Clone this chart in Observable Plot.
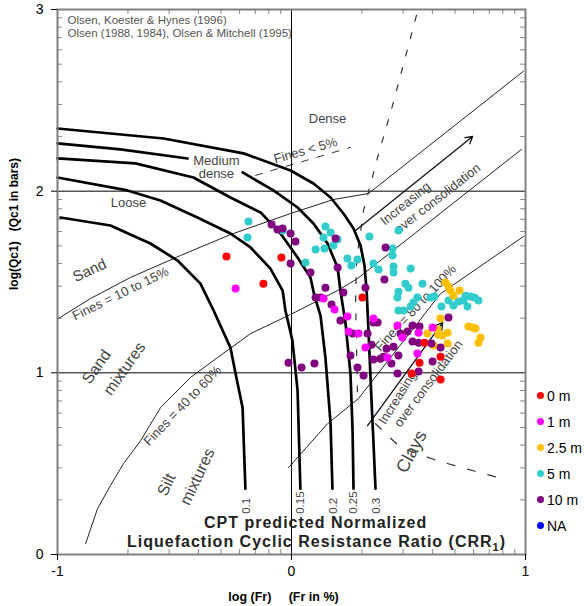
<!DOCTYPE html>
<html><head><meta charset="utf-8">
<script src="https://cdn.jsdelivr.net/npm/d3@7"></script>
<script src="https://cdn.jsdelivr.net/npm/@observablehq/plot@0.6"></script>
<style>
body{margin:0;background:#fff;font-family:"Liberation Sans",Arial,sans-serif;}
#wrap{position:relative;width:584px;height:606px;overflow:hidden;}
#legend{position:absolute;left:537px;top:383px;font-size:14px;line-height:26px;color:#000;white-space:nowrap}
.sw{display:inline-block;width:7px;height:7px;border-radius:50%;margin-right:3px;vertical-align:middle;position:relative;top:-2px}
</style></head><body>
<div id="wrap"><div id="chart"></div><div id="legend"></div></div>
<script>
// ---- categories / legend ----
const depths = ["0 m", "1 m", "2.5 m", "5 m", "10 m", "NA"];
const depthColors = ["#ff0000", "#ff00ff", "#ffc000", "#33cccc", "#800080", "#0000ff"];

// ---- measured points [log(Fr), log(Qc1)] per depth ----
const pts0m = [[-0.278,1.640],[-0.043,1.635],[-0.120,1.491],[0.303,1.414],[0.568,1.166],[0.637,1.089],[0.547,1.056],[0.513,0.996],[0.637,0.963]];
const pts1m = [[-0.239,1.464],[0.137,1.409],[0.184,1.348],[0.239,1.310],[0.244,1.227],[0.286,1.216],[0.316,1.139],[0.350,1.299],[0.453,1.260],[0.474,1.194],[0.543,1.221],[0.603,1.249],[0.410,1.084],[0.538,1.106]];
const pts2_5m = [[0.658,1.497],[0.671,1.475],[0.679,1.453],[0.692,1.425],[0.718,1.453],[0.637,1.299],[0.756,1.255],[0.774,1.249],[0.786,1.244],[0.624,1.238],[0.628,1.210],[0.645,1.205],[0.667,1.221],[0.581,1.216],[0.808,1.194],[0.799,1.166],[0.667,1.161],[0.607,1.150]];
const pts5m = [[-0.184,1.833],[-0.188,1.745],[-0.038,1.783],[0.060,1.607],[0.145,1.806],[0.167,1.772],[0.137,1.745],[0.197,1.734],[0.179,1.701],[0.141,1.684],[0.103,1.679],[0.239,1.629],[0.282,1.624],[0.256,1.591],[0.333,1.750],[0.350,1.602],[0.372,1.569],[0.457,1.783],[0.432,1.684],[0.432,1.646],[0.436,1.585],[0.436,1.552],[0.509,1.574],[0.487,1.491],[0.500,1.469],[0.560,1.491],[0.457,1.447],[0.453,1.414],[0.538,1.414],[0.521,1.387],[0.509,1.365],[0.457,1.343],[0.479,1.343],[0.594,1.414],[0.611,1.420],[0.671,1.398],[0.641,1.365],[0.692,1.370],[0.714,1.392],[0.744,1.425],[0.735,1.398],[0.752,1.365],[0.765,1.420],[0.782,1.414],[0.799,1.398]];
const pts10m = [[-0.085,1.817],[-0.060,1.789],[-0.038,1.794],[-0.004,1.767],[0.017,1.723],[-0.004,1.602],[0.081,1.552],[0.188,1.739],[0.197,1.580],[0.145,1.469],[0.103,1.414],[0.124,1.414],[0.222,1.442],[0.316,1.469],[0.402,1.690],[0.397,1.514],[0.171,1.376],[0.209,1.288],[0.261,1.216],[0.325,1.216],[0.350,1.277],[0.368,1.277],[0.342,1.155],[0.252,1.095],[0.350,1.073],[0.282,1.029],[0.308,0.985],[-0.013,1.056],[0.043,1.029],[0.098,1.051],[0.671,1.304],[0.517,1.260],[0.547,1.255],[0.466,1.216],[0.496,1.227],[0.517,1.172],[0.543,1.166],[0.598,1.161],[0.637,1.139],[0.406,1.133],[0.436,1.144],[0.393,1.089],[0.457,1.095],[0.427,1.051],[0.603,1.062],[0.543,1.007],[0.453,0.996],[0.380,1.078]];
const ptsNA = [];

// ---- background chart (Olsen) curves [log(Fr), log(Qc1)] ----
const crr030 = [[-1.0,2.345],[-0.547,2.290],[-0.205,2.208],[-0.004,2.114],[0.094,2.042],[0.167,1.965],[0.222,1.877],[0.265,1.795],[0.295,1.701],[0.312,1.591],[0.321,1.453],[0.329,1.233],[0.342,0.847],[0.350,0.626],[0.359,0.362]];
const crr025a = [[-1.0,2.263],[-0.731,2.230],[-0.444,2.180]];
const crr025b = [[-0.209,2.103],[-0.077,2.004],[0.026,1.910],[0.094,1.822],[0.154,1.712],[0.197,1.580],[0.209,1.453],[0.231,1.271],[0.252,0.996],[0.261,0.682],[0.265,0.362]];
const crr020 = [[-1.0,2.180],[-0.667,2.153],[-0.419,2.075],[-0.261,1.965],[-0.132,1.883],[-0.047,1.767],[0.026,1.635],[0.081,1.525],[0.098,1.425],[0.124,1.315],[0.145,1.084],[0.167,0.720],[0.175,0.362]];
const crr015 = [[-1.0,2.075],[-0.701,2.004],[-0.560,1.949],[-0.402,1.855],[-0.261,1.767],[-0.175,1.690],[-0.090,1.574],[-0.038,1.453],[-0.026,1.343],[0.004,1.177],[0.026,0.902],[0.038,0.362]];
const crr010 = [[-0.987,1.855],[-0.774,1.811],[-0.603,1.712],[-0.487,1.618],[-0.389,1.491],[-0.333,1.343],[-0.261,1.139],[-0.239,0.996],[-0.209,0.808],[-0.197,0.362]];
const fines10to15 = [[-0.996,1.299],[-0.859,1.409],[-0.688,1.525],[-0.474,1.646],[-0.261,1.761],[-0.004,1.877],[0.179,1.954],[0.329,1.987],[0.991,2.660]];
const fines40to60 = [[-0.880,0.059],[-0.829,0.252],[-0.774,0.379],[-0.718,0.500],[-0.645,0.626],[-0.560,0.808],[-0.432,0.974],[-0.316,1.084],[-0.175,1.216],[-0.004,1.321],[0.197,1.453],[0.282,1.519],[0.983,2.230]];
const fines80to100 = [[-0.013,0.478],[0.154,0.720],[0.286,0.858],[0.637,1.436],[0.991,1.750]];
const finesUnder5 = [[-0.154,2.087],[0.252,2.241]];
const dashedBoundary = [[0.534,2.968],[0.432,2.472],[0.368,2.186],[0.308,1.894],[0.278,1.618],[0.274,1.398],[0.282,0.874]];
const claysBoundary = [[0.359,0.720],[0.466,0.588],[0.624,0.516],[0.915,0.412]];
const ocArrows = [{x1:0.274,y1:1.783,x2:0.774,y2:2.301},{x1:0.325,y1:0.709,x2:0.646,y2:1.277}];

// ---- annotations ----
const refNotes = [
  {t:"Olsen, Koester & Hynes (1996)", x:-0.957, y:2.940},
  {t:"Olsen (1988, 1984), Olsen & Mitchell (1995)", x:-0.957, y:2.869}
];
const smallNotes = [
  {t:"Dense", x:0.154, y:2.400, r:0},
  {t:"Fines < 5%", x:0.060, y:2.224, r:-16},
  {t:"Medium", x:-0.321, y:2.168, r:0},
  {t:"dense", x:-0.321, y:2.098, r:0},
  {t:"Loose", x:-0.697, y:1.937, r:0},
  {t:"Fines = 10 to 15%", x:-0.731, y:1.435, r:-26},
  {t:"Fines = 40 to 60%", x:-0.466, y:0.819, r:-46},
  {t:"Increasing", x:0.487, y:1.931, r:-39},
  {t:"over consolidation", x:0.624, y:1.959, r:-38},
  {t:"Fines = 80 to 100%", x:0.530, y:1.357, r:-47},
  {t:"Increasing", x:0.453, y:0.863, r:-58},
  {t:"over consolidation", x:0.585, y:0.941, r:-53}
];
const bigNotes = [
  {t:"Sand", x:-0.863, y:1.563, r:-25, s:15},
  {t:"Sand", x:-0.833, y:1.033, r:-55, s:16},
  {t:"mixtures", x:-0.714, y:1.022, r:-55, s:16},
  {t:"Silt", x:-0.534, y:0.384, r:-65, s:16},
  {t:"mixtures", x:-0.402, y:0.428, r:-65, s:16},
  {t:"Clays", x:0.513, y:0.566, r:-62, s:18}
];
const crrLabels = [
  {t:"0.1", x:-0.192}, {t:"0.15", x:0.038}, {t:"0.2", x:0.179}, {t:"0.25", x:0.265}, {t:"0.3", x:0.363}
];
const crrLabelY = 0.224;
const titleLines = [
  {t:"CPT predicted Normalized", x:0.103, y:0.175},
  {t:"Liquefaction Cyclic Resistance Ratio (CRR1)", x:0.107, y:0.070}
];
const xMajor = [-1, 0, 1];
const yMajor = [0, 1, 2, 3];
const minorMultipliers = [2, 3, 4, 5, 6, 7, 8, 9];
const xDecades = [0.1, 1];
const yDecades = [1, 10, 100];
const xLabel = "log (Fr)\u00a0\u00a0\u00a0\u00a0\u00a0(Fr in %)";
const yLabel = "log(Qc1)\u00a0\u00a0\u00a0(Qc1 in bars)";

// ---- build tables ----
const ptSets = [pts0m, pts1m, pts2_5m, pts5m, pts10m, ptsNA];
const points = [];
[3, 2, 4, 1, 0, 5].forEach(i => ptSets[i].forEach(([x, y]) => points.push({x, y, depth: depths[i]})));
const xMinor = xDecades.flatMap(d => minorMultipliers.map(m => Math.log10(d * m)));
const yMinor = yDecades.flatMap(d => minorMultipliers.map(m => Math.log10(d * m)));

const W = 584, H = 606, mL = 57, mR = 59, mT = 9, mB = 52;
const fw = W - mL - mR, fh = H - mT - mB;
const thick = {stroke: "#000", strokeWidth: 2.7, strokeLinejoin: "round"};
const thin = {stroke: "#222", strokeWidth: 1};
const ff = "Liberation Sans, Arial, sans-serif";

const chart = Plot.plot({
  width: W, height: H,
  marginLeft: mL, marginRight: mR, marginTop: mT, marginBottom: mB,
  style: {fontFamily: ff, background: "#fff", color: "#000"},
  x: {domain: [-1, 1]},
  y: {domain: [0, 3]},
  color: {domain: depths, range: depthColors},
  marks: [
    Plot.ruleX([0], {stroke: "#000", strokeWidth: 1}),
    Plot.ruleY([1, 2], {stroke: "#000", strokeWidth: 1}),
    Plot.tickX(xMinor, {x: d => d, insetTop: fh - 5, stroke: "#888"}),
    Plot.tickX(xMinor, {x: d => d, insetBottom: fh - 5, stroke: "#888"}),
    Plot.tickY(yMinor, {y: d => d, insetRight: fw - 5, stroke: "#888"}),
    Plot.tickY(yMinor, {y: d => d, insetLeft: fw - 5, stroke: "#888"}),
    Plot.line(fines10to15, thin),
    Plot.line(fines40to60, thin),
    Plot.line(fines80to100, thin),
    Plot.line(finesUnder5, {stroke: "#333", strokeWidth: 1, strokeDasharray: "7,9"}),
    Plot.line(dashedBoundary, {stroke: "#333", strokeWidth: 1.2, strokeDasharray: "6,12"}),
    Plot.line(claysBoundary, {stroke: "#333", strokeWidth: 1.2, strokeDasharray: "8,13"}),
    Plot.arrow(ocArrows, {x1: "x1", y1: "y1", x2: "x2", y2: "y2", stroke: "#111", strokeWidth: 1.3, headLength: 9}),
    Plot.line(crr030, thick),
    Plot.line(crr025a, thick),
    Plot.line(crr025b, thick),
    Plot.line(crr020, thick),
    Plot.line(crr015, thick),
    Plot.line(crr010, thick),
    Plot.text(refNotes, {x: "x", y: "y", text: "t", textAnchor: "start", fontSize: 11.5, fill: "#555"}),
    Plot.text(smallNotes, {x: "x", y: "y", text: "t", rotate: "r", fontSize: 13, fill: "#444"}),
    Plot.text(bigNotes, {x: "x", y: "y", text: "t", rotate: "r", fontSize: "s", fill: "#444"}),
    Plot.text(crrLabels, {x: "x", y: () => crrLabelY, text: "t", rotate: -90, textAnchor: "start", fontSize: 11.5, fill: "#444"}),
    Plot.text(titleLines, {x: "x", y: "y", text: "t", fontSize: 16, fontWeight: "bold", fill: "#222"}),
    Plot.dot(points, {x: "x", y: "y", fill: "depth", r: 4}),
    Plot.frame({stroke: "#808080", strokeWidth: 2}),
    Plot.axisY({ticks: yMajor, tickSize: 6, tickPadding: 8, fontSize: 14, label: null, tickFormat: d => String(d)}),
    Plot.axisX({ticks: xMajor, tickSize: 6, tickPadding: 6, fontSize: 14, label: null, tickFormat: d => String(d)}),
    Plot.text([yLabel], {frameAnchor: "left", dx: -43, dy: 8, rotate: -90, text: d => d, fontSize: 12, fontWeight: "bold"}),
    Plot.text([xLabel], {frameAnchor: "bottom", dx: -8, dy: 46, text: d => d, fontSize: 12.5, fontWeight: "bold"})
  ]
});
document.getElementById("chart").appendChild(chart);

// title spacing and subscript for CRR1
d3.select(chart).selectAll("text").filter(function () { return titleLines.some(l => l.t === this.textContent); })
  .style("letter-spacing", "1px");
d3.select(chart).selectAll("text").filter(function () { return this.textContent === titleLines[1].t; })
  .each(function () {
    const t = d3.select(this);
    t.text(null);
    t.append("tspan").text("Liquefaction Cyclic Resistance Ratio (CRR");
    t.append("tspan").attr("font-size", 11).attr("dy", 4).text("1");
    t.append("tspan").attr("dy", -4).text(")");
  });

// legend
const lg = d3.select("#legend");
depths.forEach((d, i) => {
  const row = lg.append("div");
  row.append("span").attr("class", "sw").style("background", depthColors[i]);
  row.append("span").text(d);
});
</script>
</body></html>
